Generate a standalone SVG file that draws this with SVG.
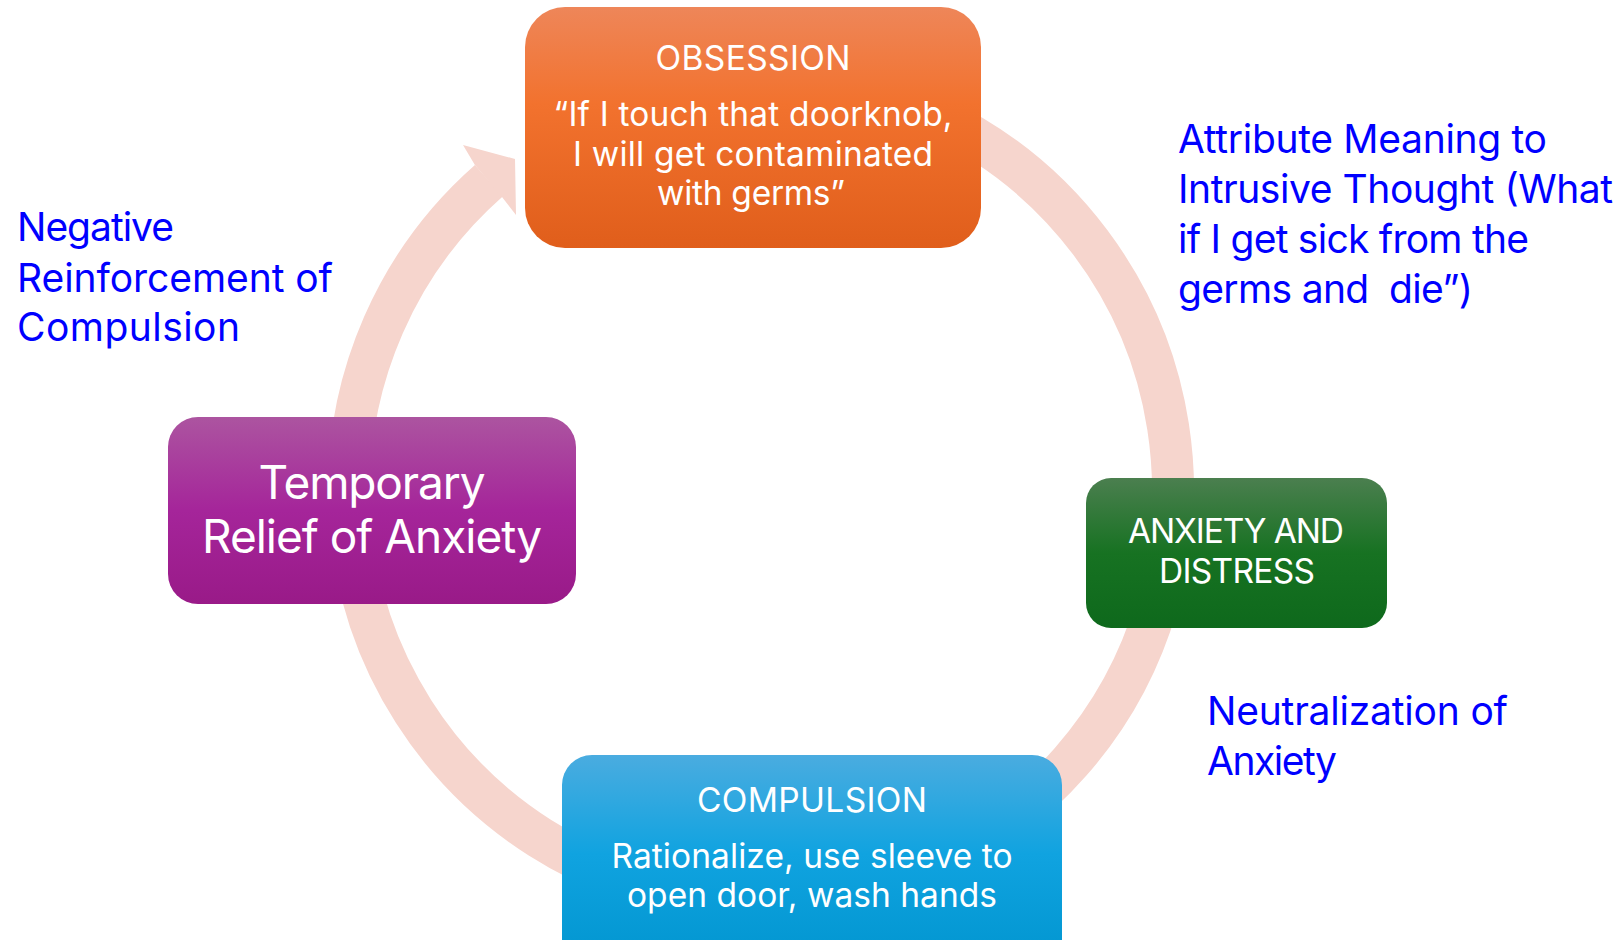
<svg xmlns="http://www.w3.org/2000/svg" width="1623" height="940" viewBox="0 0 1623 940">
  <style>
    .ring { fill: none; stroke: #F6D5CD; stroke-width: 42; stroke-linecap: butt; }
    .head { fill: #F6D5CD; }
    .wt { font-family: Inter, "Noto Sans", "Liberation Sans", sans-serif; fill: #FFFFFF; text-anchor: middle; }
    .lbl { font-family: Inter, "Noto Sans", "Liberation Sans", sans-serif; fill: #0000FF; font-size: 39px; }
  </style>
  <defs>
    <linearGradient id="gOrange" x1="0" y1="0" x2="0" y2="1">
      <stop offset="0" stop-color="#EE8659"/>
      <stop offset="0.4" stop-color="#F2722E"/>
      <stop offset="1" stop-color="#E05E1B"/>
    </linearGradient>
    <linearGradient id="gGreen" x1="0" y1="0" x2="0" y2="1">
      <stop offset="0" stop-color="#4B7F4F"/>
      <stop offset="0.5" stop-color="#177222"/>
      <stop offset="1" stop-color="#0E691C"/>
    </linearGradient>
    <linearGradient id="gBlue" x1="0" y1="0" x2="0" y2="1">
      <stop offset="0" stop-color="#4AACE0"/>
      <stop offset="0.45" stop-color="#10A3E0"/>
      <stop offset="1" stop-color="#0094CE"/>
    </linearGradient>
    <linearGradient id="gPurple" x1="0" y1="0" x2="0" y2="1">
      <stop offset="0" stop-color="#AC54A0"/>
      <stop offset="0.5" stop-color="#A5259A"/>
      <stop offset="1" stop-color="#991A88"/>
    </linearGradient>
  </defs>

  <g id="connectors">
    <path class="ring" d="M 761 78 A 412 412 0 1 1 488.8 180.7"/>
    <polygon class="head" points="480,171 474.9,165 463,145 515,159 516,215 502,197 495,189"/>
  </g>

  <g id="node-obsession">
    <rect x="525" y="7" width="456" height="241" rx="40" ry="40" fill="url(#gOrange)"/>
    <text class="wt" x="753" y="70" font-size="33.5" textLength="195">OBSESSION</text>
    <text class="wt" x="753" y="126" font-size="33.5" textLength="399">“If I touch that doorknob,</text>
    <text class="wt" x="753" y="166" font-size="33.5" textLength="360">I will get contaminated</text>
    <text class="wt" x="751" y="205" font-size="33.5" textLength="188">with germs”</text>
  </g>

  <g id="node-anxiety">
    <rect x="1086" y="478" width="301" height="150" rx="25" ry="25" fill="url(#gGreen)"/>
    <text class="wt" x="1236" y="543" font-size="33.5" textLength="216">ANXIETY AND</text>
    <text class="wt" x="1237" y="583" font-size="33.5" textLength="156">DISTRESS</text>
  </g>

  <g id="node-compulsion">
    <rect x="562" y="755" width="500" height="220" rx="30" ry="30" fill="url(#gBlue)"/>
    <text class="wt" x="812" y="812" font-size="33.5" textLength="230">COMPULSION</text>
    <text class="wt" x="812" y="868" font-size="33.5" textLength="401">Rationalize, use sleeve to</text>
    <text class="wt" x="812" y="907" font-size="33.5" textLength="370">open door, wash hands</text>
  </g>

  <g id="node-relief">
    <rect x="168" y="417" width="408" height="187" rx="30" ry="30" fill="url(#gPurple)"/>
    <text class="wt" x="372" y="499" font-size="46" textLength="227">Temporary</text>
    <text class="wt" x="372" y="553" font-size="46" textLength="340">Relief of Anxiety</text>
  </g>

  <g id="label-negative">
    <text class="lbl" x="17" y="241" textLength="157">Negative</text>
    <text class="lbl" x="17" y="292" textLength="316">Reinforcement of</text>
    <text class="lbl" x="17" y="341" textLength="223">Compulsion</text>
  </g>

  <g id="label-attribute">
    <text class="lbl" x="1178" y="153" textLength="369">Attribute Meaning to</text>
    <text class="lbl" x="1178" y="203" textLength="435">Intrusive Thought (What</text>
    <text class="lbl" x="1178" y="253" textLength="351">if I get sick from the</text>
    <text class="lbl" x="1178" y="303" textLength="295" xml:space="preserve">germs and  die”)</text>
  </g>

  <g id="label-neutralization">
    <text class="lbl" x="1207" y="725" textLength="301">Neutralization of</text>
    <text class="lbl" x="1207" y="775" textLength="130">Anxiety</text>
  </g>
</svg>
